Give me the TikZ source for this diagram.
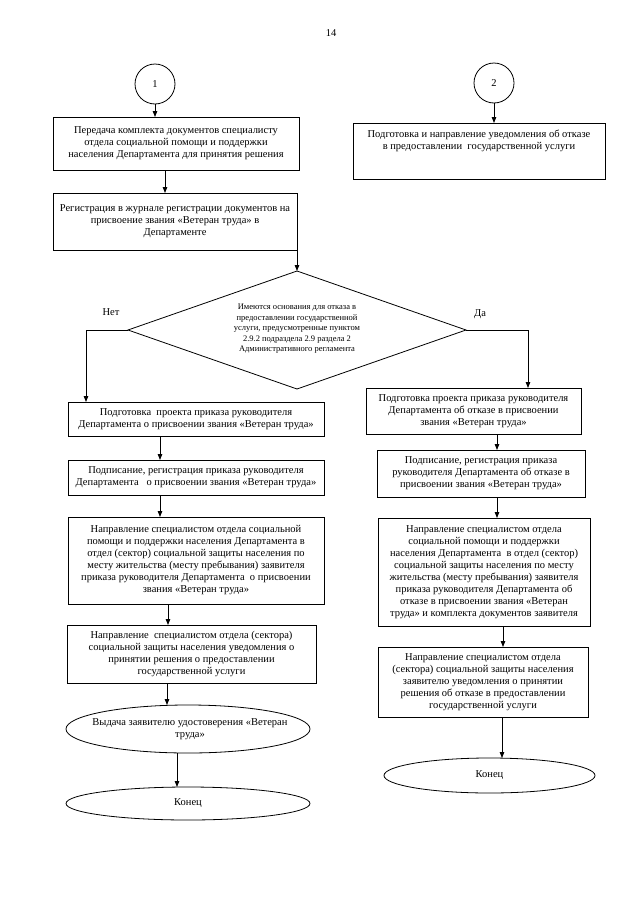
\documentclass[tikz,border=0pt]{standalone}
\usepackage{fontspec}
\setmainfont{Liberation Serif}
\usetikzlibrary{arrows.meta,shapes.geometric}
\begin{document}
\begin{tikzpicture}[x=1pt,y=-1pt,
  every node/.style={inner sep=0pt, outer sep=0pt},
  box/.style={draw, line width=0.8pt, align=center, font=\fontsize{10.5}{12}\selectfont},
  oval/.style={draw, ellipse, line width=0.8pt},
  circ/.style={draw, circle, line width=0.8pt, minimum size=40pt, font=\fontsize{10.5}{12}\selectfont},
  dia/.style={draw, diamond, line width=0.8pt},
  txt/.style={align=center, font=\fontsize{10.5}{12}\selectfont},
  dtxt/.style={align=center, font=\fontsize{8.5}{10.5}\selectfont},
  arr/.style={line width=0.8pt, -{Triangle[length=6pt,width=4.5pt]}},
  lnk/.style={line width=0.8pt}
]
\path[use as bounding box, fill=white] (0,0) rectangle (640,905);

\node[txt] (pnum) at (331,33) {14};

% ---------- left column ----------
\node[circ] (c1) at (155,84) {1};
\node[box, minimum width=246pt, minimum height=53pt] (b1) at (176,143.5)
  {Передача комплекта документов специалисту\\отдела социальной помощи и поддержки\\населения Департамента для принятия решения};
\node[box, minimum width=244pt, minimum height=57pt] (b2) at (175,221.5)
  {Регистрация в журнале регистрации документов на\\присвоение звания «Ветеран труда» в\\Департаменте};

\node[dia, minimum width=338pt, minimum height=118pt] (d) at (297,330) {};
\node[dtxt] (dt) at (297,329)
  {Имеются основания для отказа в\\предоставлении государственной\\услуги, предусмотренные пунктом\\2.9.2 подраздела 2.9 раздела 2\\Административного регламента};
\node[txt] (lNo) at (111,312) {Нет};
\node[txt] (lYes) at (480,314) {Да};
\coordinate (kL) at (86,330);
\coordinate (kR) at (528,330);

\node[box, minimum width=256pt, minimum height=34pt] (b3) at (196,419)
  {Подготовка \ проекта приказа руководителя\\Департамента о присвоении звания «Ветеран труда»};
\node[box, minimum width=256pt, minimum height=35pt] (b4) at (196,477.5)
  {Подписание, регистрация приказа руководителя\\Департамента \ \ о присвоении звания «Ветеран труда»};
\node[box, minimum width=256pt, minimum height=87pt] (b5) at (196,560.5)
  {Направление специалистом отдела социальной\\помощи и поддержки населения Департамента в\\отдел (сектор) социальной защиты населения по\\месту жительства (месту пребывания) заявителя\\приказа руководителя Департамента \ о присвоении\\звания «Ветеран труда»};
\node[box, minimum width=249pt, minimum height=58pt] (b6) at (191.5,654)
  {Направление \ специалистом отдела (сектора)\\социальной защиты населения уведомления о\\принятии решения о предоставлении\\государственной услуги};
\node[oval, minimum width=244pt, minimum height=48pt] (e1) at (188,729) {};
\node[txt] (e1t) at (190,729) {Выдача заявителю удостоверения «Ветеран\\труда»};
\node[oval, minimum width=244pt, minimum height=33pt] (e2) at (188,803.5) {};
\node[txt] (e2t) at (188,803.5) {Конец};

% ---------- right column ----------
\node[circ] (c2) at (494,83) {2};
\node[box, minimum width=252pt, minimum height=56pt] (r1) at (479,151) {};
\node[txt] (r1t) at (479,141) {Подготовка и направление уведомления об отказе\\в предоставлении \ государственной услуги};

\node[box, minimum width=215pt, minimum height=46pt] (r3) at (473.5,411)
  {Подготовка проекта приказа руководителя\\Департамента об отказе в присвоении\\звания «Ветеран труда»};
\node[box, minimum width=208pt, minimum height=47pt] (r4) at (481,473.5)
  {Подписание, регистрация приказа\\руководителя Департамента об отказе в\\присвоении звания «Ветеран труда»};
\node[box, minimum width=212pt, minimum height=108pt] (r5) at (484,572)
  {Направление специалистом отдела\\социальной помощи и поддержки\\населения Департамента \ в отдел (сектор)\\социальной защиты населения по месту\\жительства (месту пребывания) заявителя\\приказа руководителя Департамента об\\отказе в присвоении звания «Ветеран\\труда» и комплекта документов заявителя};
\node[box, minimum width=210pt, minimum height=70pt] (r6) at (483,682)
  {Направление специалистом отдела\\(сектора) социальной защиты населения\\заявителю уведомления о принятии\\решения об отказе в предоставлении\\государственной услуги};
\node[oval, minimum width=211pt, minimum height=35pt] (e3) at (489.5,775.5) {};
\node[txt] (e3t) at (489.5,775.5) {Конец};

% ---------- connectors ----------
\draw[arr] (c1.south) -- (c1.south |- b1.north);
\draw[arr] (165,0 |- b1.south) -- (165,0 |- b2.north);
\draw[arr] (b2.south east) -- (d.north);
\draw[lnk] (d.west) -- (kL);
\draw[arr] (kL) -- (kL |- b3.north);
\draw[lnk] (d.east) -- (kR);
\draw[arr] (kR) -- (kR |- r3.north);
\draw[arr] (160,0 |- b3.south) -- (160,0 |- b4.north);
\draw[arr] (160,0 |- b4.south) -- (160,0 |- b5.north);
\draw[arr] (168,0 |- b5.south) -- (168,0 |- b6.north);
\draw[arr] (167,0 |- b6.south) -- (167,0 |- e1.north);
\draw[arr] (177,0 |- e1.south) -- (177,0 |- e2.north);

\draw[arr] (c2.south) -- (c2.south |- r1.north);
\draw[arr] (497,0 |- r3.south) -- (497,0 |- r4.north);
\draw[arr] (497,0 |- r4.south) -- (497,0 |- r5.north);
\draw[arr] (503,0 |- r5.south) -- (503,0 |- r6.north);
\draw[arr] (502,0 |- r6.south) -- (502,0 |- e3.north);
\end{tikzpicture}
\end{document}
